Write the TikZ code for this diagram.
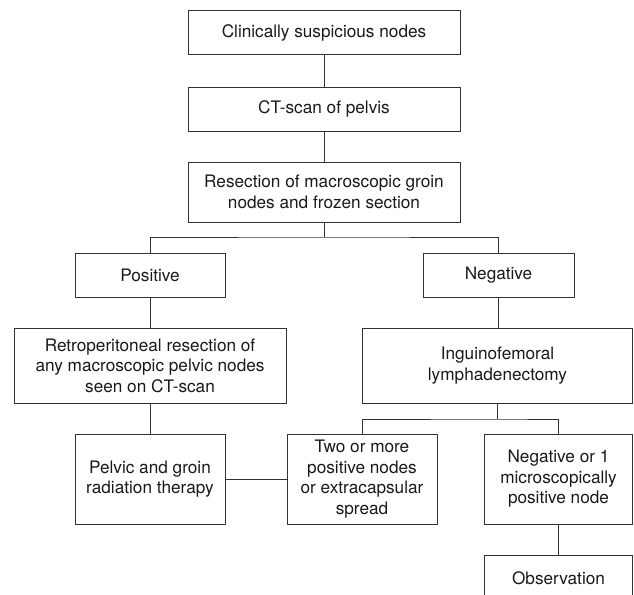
\documentclass[tikz,border=0pt]{standalone}
\usepackage{fontspec}
\setmainfont{TeX Gyre Heros}
\begin{document}
\begin{tikzpicture}[x=1pt,y=-1pt,
  box/.style={draw=black!80, line width=1pt, rectangle, align=center, inner sep=0pt,
    font=\fontsize{17.2}{20.5}\selectfont, text=black!90},
  conn/.style={draw=black!80, line width=1pt}]
\useasboundingbox (0,0) rectangle (634,594);
\node[box, minimum width=272, minimum height=44] (b1) at (324,33) {Clinically suspicious nodes};
\node[box, minimum width=272, minimum height=44] (b2) at (324,109) {CT-scan of pelvis};
\node[box, minimum width=272, minimum height=60] (b3) at (324,192) {Resection of macroscopic groin\\nodes and frozen section};
\node[box, minimum width=150, minimum height=44] (pos) at (150,275) {Positive};
\node[box, minimum width=151, minimum height=44] (neg) at (498.5,275) {Negative};
\node[box, minimum width=272, minimum height=75] (retro) at (150,365.5) {Retroperitoneal resection of\\any macroscopic pelvic nodes\\seen on CT-scan};
\node[box, minimum width=270, minimum height=75] (ing) at (497.5,365.5) {Inguinofemoral\\lymphadenectomy};
\node[box, minimum width=150, minimum height=90] (pel) at (150,479) {Pelvic and groin\\radiation therapy};
\node[box, minimum width=150, minimum height=90] (two) at (362,479) {Two or more\\positive nodes\\or extracapsular\\spread};
\node[box, minimum width=148, minimum height=90] (neg1) at (558.5,479) {Negative or 1\\microscopically\\positive node};
\node[box, minimum width=148, minimum height=46] (obs) at (558.5,578) {Observation};
\coordinate (j1) at (324,237);
\coordinate (j2) at (497.5,419);
\draw[conn] (b1) -- (b2);
\draw[conn] (b2) -- (b3);
\draw[conn] (b3.south) -- (j1);
\draw[conn] (pos.north) |- (j1) -| (neg.north);
\draw[conn] (pos) -- (retro);
\draw[conn] (neg.south) -- (neg.south |- ing.north);
\draw[conn] (retro) -- (pel);
\draw[conn] (ing.south) -- (j2);
\draw[conn] (two.north) |- (j2) -| (neg1.north);
\draw[conn] (pel) -- (two);
\draw[conn] (neg1) -- (obs);
\end{tikzpicture}
\end{document}
